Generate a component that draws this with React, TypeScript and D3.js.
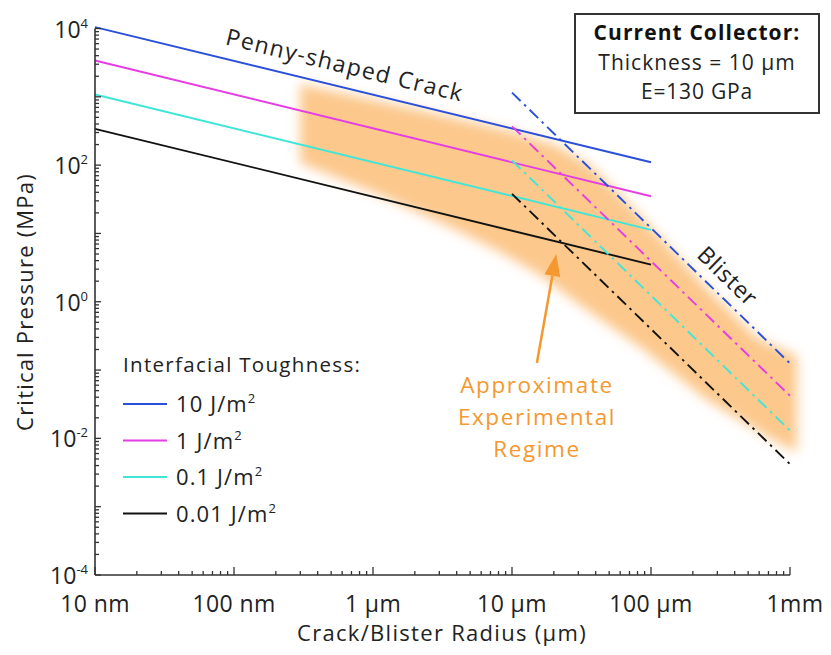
import React from "react";
import * as d3 from "d3";

const W = 831;
const H = 655;

// Interfacial toughness series (J/m^2)
const toughnessLabels = ["10", "1", "0.1", "0.01"];
const seriesColors = ["#2a4fd8", "#e63ce4", "#3fe6d8", "#111111"];

// Penny-shaped crack (solid) endpoints: radius (µm) and pressure (MPa)
const pennyRadius = [0.01, 100];
const pennyStart = [10500, 3400, 1080, 340];
const pennyEnd = [110, 35, 11.3, 3.5];

// Blister (dash-dot) endpoints
const blisterRadius = [10, 1000];
const blisterStart = [1150, 370, 117, 38];
const blisterEnd = [0.125, 0.042, 0.013, 0.0042];

// Approximate experimental regime band (µm, MPa)
const bandUpperX = [0.299, 2.18, 9.69, 20.4, 36.4, 65, 116, 253, 579, 1122];
const bandUpperY = [1540, 641, 316, 197, 100, 30.8, 8.9, 1.59, 0.294, 0.161];
const bandLowerX = [0.299, 1.12, 3.58, 8.2, 15.9, 30.8, 83.4, 253, 755, 1122];
const bandLowerY = [107, 36.5, 12.4, 5.35, 2.46, 0.895, 0.217, 0.0364, 0.00946, 0.0063];

// Arrow (µm, MPa): tail -> tip
const arrowRadius = [15.1, 20.8];
const arrowPressure = [0.127, 5.0];

// Axis ticks
const xTickValues = [0.01, 0.1, 1, 10, 100, 1000];
const xTickLabels = ["10 nm", "100 nm", "1 µm", "10 µm", "100 µm", "1mm"];
const yTickValues = [1e4, 1e2, 1, 1e-2, 1e-4];
const yTickExps = ["4", "2", "0", "-2", "-4"];

const FONT = "'Open Sans', 'Noto Sans', sans-serif";

export default function App() {
  const left = 95;
  const right = 790;
  const top = 28.5;
  const bottom = 575;

  const x = d3.scaleLog().domain([0.01, 1000]).range([left, right]);
  const y = d3.scaleLog().domain([1e-4, 1e4]).range([bottom, top]);

  const line = d3
    .line<[number, number]>()
    .x((d) => x(d[0]))
    .y((d) => y(d[1]));

  const bandPts: [number, number][] = [
    ...bandUpperX.map((v, i) => [v, bandUpperY[i]] as [number, number]),
    ...bandLowerX
      .map((v, i) => [v, bandLowerY[i]] as [number, number])
      .reverse(),
  ];
  const bandPath = d3
    .line<[number, number]>()
    .x((d) => x(d[0]))
    .y((d) => y(d[1]))
    .curve(d3.curveLinearClosed)(bandPts);

  const xTicksAll = x.ticks();
  const yTicksAll = y.ticks();
  const isDecade = (v: number) =>
    Math.abs(Math.log10(v) - Math.round(Math.log10(v))) < 1e-6;

  // arrow geometry
  const ax0 = x(arrowRadius[0]);
  const ay0 = y(arrowPressure[0]);
  const ax1 = x(arrowRadius[1]);
  const ay1 = y(arrowPressure[1]);
  const ang = Math.atan2(ay1 - ay0, ax1 - ax0);
  const headLen = 22;
  const headW = 8;
  const bx = ax1 - headLen * Math.cos(ang);
  const by = ay1 - headLen * Math.sin(ang);
  const px = -Math.sin(ang) * headW;
  const py = Math.cos(ang) * headW;

  const pennyAngle = (Math.atan2(y(pennyEnd[0]) - y(pennyStart[0]), x(pennyRadius[1]) - x(pennyRadius[0])) * 180) / Math.PI;
  const blisterAngle = (Math.atan2(y(blisterEnd[0]) - y(blisterStart[0]), x(blisterRadius[1]) - x(blisterRadius[0])) * 180) / Math.PI;

  const orange = "#f5982f";
  const axisColor = "#333";
  const sw = 1.9;

  return (
    <svg width={W} height={H} style={{ display: "block", position: "absolute", left: 0, top: 0, background: "#fff" }} fontFamily={FONT}>
      <defs>
        <filter id="blur" x="-20%" y="-20%" width="140%" height="140%">
          <feGaussianBlur stdDeviation="6" />
        </filter>
      </defs>
      <rect x={0} y={0} width={W} height={H} fill="#fff" />

      {/* band */}
      <path d={bandPath || ""} fill="#fcc88c" filter="url(#blur)" />

      {/* penny lines */}
      {pennyStart.map((s, i) => (
        <path
          key={"p" + i}
          d={line([[pennyRadius[0], s], [pennyRadius[1], pennyEnd[i]]]) || ""}
          stroke={seriesColors[i]}
          strokeWidth={sw}
          fill="none"
        />
      ))}

      {/* blister lines */}
      {blisterStart.map((s, i) => (
        <path
          key={"b" + i}
          d={line([[blisterRadius[0], s], [blisterRadius[1], blisterEnd[i]]]) || ""}
          stroke={seriesColors[i]}
          strokeWidth={sw}
          strokeDasharray="12,5,2.5,5"
          fill="none"
        />
      ))}

      {/* axes */}
      <line x1={left} y1={bottom} x2={right} y2={bottom} stroke={axisColor} strokeWidth={1.6} />
      <line x1={left} y1={top} x2={left} y2={bottom} stroke={axisColor} strokeWidth={1.6} />
      {xTicksAll.map((t, i) => (
        <line
          key={"xt" + i}
          x1={x(t)}
          x2={x(t)}
          y1={bottom}
          y2={bottom - (isDecade(t) ? 8 : 4)}
          stroke={axisColor}
          strokeWidth={1.3}
        />
      ))}
      {yTicksAll.map((t, i) => (
        <line
          key={"yt" + i}
          x1={left}
          x2={left + (isDecade(t) ? 6 : 4)}
          y1={y(t)}
          y2={y(t)}
          stroke={axisColor}
          strokeWidth={1.3}
        />
      ))}

      {/* x tick labels */}
      {xTickValues.map((v, i) => (
        <text
          key={"xl" + i}
          x={x(v) + (i === xTickLabels.length - 1 ? 5 : 0)}
          y={612}
          fontSize={23}
          letterSpacing={0.4}
          textAnchor="middle"
          fill="#222"
        >
          {xTickLabels[i]}
        </text>
      ))}
      {/* y tick labels */}
      {yTickValues.map((v, i) => (
        <text key={"yl" + i} x={88} y={y(v) + 9} fontSize={23} textAnchor="end" fill="#222">
          10
          <tspan fontSize={13} dy={-10}>
            {yTickExps[i]}
          </tspan>
        </text>
      ))}

      {/* axis titles */}
      <text x={442} y={641} fontSize={22} letterSpacing={1.3} textAnchor="middle" fill="#222">
        Crack/Blister Radius (µm)
      </text>
      <text transform={`translate(33,302) rotate(-90)`} fontSize={22} letterSpacing={1.2} textAnchor="middle" fill="#222">
        Critical Pressure (MPa)
      </text>

      {/* annotations */}
      <text
        transform={`translate(343,73) rotate(${pennyAngle})`}
        fontSize={23}
        letterSpacing={1.4}
        textAnchor="middle"
        fill="#222"
      >
        Penny-shaped Crack
      </text>
      <text
        transform={`translate(722,282) rotate(${blisterAngle})`}
        fontSize={23}
        letterSpacing={0.8}
        textAnchor="middle"
        fill="#222"
      >
        Blister
      </text>

      {/* arrow */}
      <line x1={ax0} y1={ay0} x2={bx} y2={by} stroke={orange} strokeWidth={2.5} />
      <polygon
        points={`${ax1},${ay1} ${bx + px},${by + py} ${bx - px},${by - py}`}
        fill={orange}
      />
      <text x={537} fontSize={22.5} letterSpacing={1.6} textAnchor="middle" fill={orange}>
        <tspan x={537} y={393}>Approximate</tspan>
        <tspan x={537} y={425}>Experimental</tspan>
        <tspan x={537} y={457}>Regime</tspan>
      </text>

      {/* info box */}
      <rect x={575} y={14} width={244} height={99} fill="#fff" stroke="#333" strokeWidth={2} />
      <text x={697} y={40} fontSize={21} letterSpacing={1.1} fontWeight="bold" textAnchor="middle" fill="#111">
        Current Collector:
      </text>
      <text x={697} y={70} fontSize={21} letterSpacing={1.0} textAnchor="middle" fill="#222">
        Thickness = 10 µm
      </text>
      <text x={697} y={99} fontSize={21} letterSpacing={0.8} textAnchor="middle" fill="#222">
        E=130 GPa
      </text>

      {/* legend */}
      <text x={123} y={372} fontSize={20.5} letterSpacing={1.3} fill="#222">
        Interfacial Toughness:
      </text>
      {toughnessLabels.map((lab, i) => {
        const ly = 404 + i * 36.5;
        return (
          <g key={"lg" + i}>
            <line x1={123} x2={167} y1={ly} y2={ly} stroke={seriesColors[i]} strokeWidth={sw} />
            <text x={176} y={ly + 8} fontSize={22} letterSpacing={1.1} fill="#222">
              {lab} J/m
              <tspan fontSize={13} dy={-9}>
                2
              </tspan>
            </text>
          </g>
        );
      })}
    </svg>
  );
}
